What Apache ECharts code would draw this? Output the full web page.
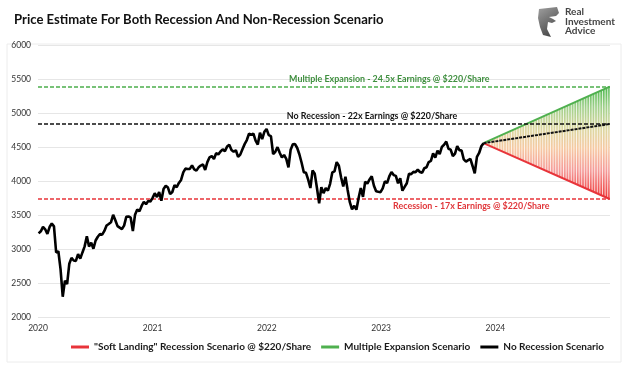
<!DOCTYPE html>
<html>
<head>
<meta charset="utf-8">
<script src="https://cdn.jsdelivr.net/npm/echarts@6/dist/echarts.min.js"></script>
<style>
html,body{margin:0;padding:0;background:#fff;}
#chart{width:624px;height:368px;}
</style>
</head>
<body>
<div id="chart"></div>
<script>
// ---------------- DATA ----------------
const chartTitle = 'Price Estimate For Both Recession And Non-Recession Scenario';
const yearLabels = ['2020', '2021', '2022', '2023', '2024'];
// S&P 500 weekly closes (first week ending 2020-01-03, weekly)
const spxFirstWeek = '2020-01-03';
const spx2020 = [3235,3265,3330,3295,3226,3328,3380,3338,2954,2972,2711,2305,2541,2489,2790,2875,2837,2831,2930,2864,2955,3044,3194,3041,3098,3009,3130,3185,3225,3216,3271,3351,3373,3397,3508,3427,3341,3319,3298,3348,3477,3484,3465,3270,3509,3585,3558,3638,3699,3663,3709,3703,3756];
const spx2021 = [3824,3768,3841,3714,3887,3934,3907,3811,3842,3943,3913,3975,4020,4129,4185,4180,4181,4233,4174,4156,4204,4230,4247,4166,4281,4352,4370,4327,4412,4395,4437,4468,4442,4509,4535,4459,4433,4455,4357,4391,4471,4545,4605,4697,4682,4698,4595,4538,4712,4620,4726,4766];
const spx2022 = [4677,4663,4398,4432,4501,4419,4349,4385,4329,4204,4463,4543,4546,4488,4393,4272,4132,4123,4024,3901,4158,4109,3901,3675,3912,3825,3899,3863,3962,4130,4145,4280,4228,4058,3924,4067,3873,3693,3586,3640,3583,3753,3901,3771,3993,3965,4026,4072,3934,3852,3845,3840];
const spx2023 = [3895,3999,3973,4071,4136,4090,4079,3970,4045,3862,3917,3971,4109,4105,4138,4133,4169,4136,4124,4192,4205,4282,4299,4410,4348,4450,4399,4505,4536,4582,4478,4464,4370,4406,4516,4457,4450,4320,4288,4309,4327,4224,4117,4358,4415,4514,4559];

// Projection (start -> end of 2024)
const projStartDate = '2023-11-24';
const projStartValue = 4559;
const projEndDate = '2024-12-31';
const targetExpansion = 5390;   // 24.5x * 220
const targetNoRecession = 4840; // 22x * 220
const targetRecession = 3740;   // 17x * 220

const seriesNames = ['"Soft Landing" Recession Scenario @ $220/Share', 'Multiple Expansion Scenario', 'No Recession Scenario'];
const levelLabels = ['Multiple Expansion - 24.5x Earnings @ $220/Share', 'No Recession - 22x Earnings @ $220/Share', 'Recession - 17x Earnings @ $220/Share'];
const levelLabelDates = ['2023-01-27', '2022-12-03', '2023-10-16'];
const logoLines = ['Real', 'Investment', 'Advice'];

// ---------------- BUILD ----------------
const spxValues = [].concat(spx2020, spx2021, spx2022, spx2023);
const DAY = 86400000;
const t0 = new Date(spxFirstWeek + 'T00:00:00Z').getTime();
const spxData = spxValues.map((v, i) => [t0 + i * 7 * DAY, v]);

const FONT = 'Lato, "Open Sans", sans-serif';
const GREEN = '#4fb04f';
const RED = '#e8343a';

const chart = echarts.init(document.getElementById('chart'), null, {renderer: 'canvas'});

const fanData = [[projStartDate, projStartValue, projEndDate, targetExpansion, targetRecession]];

const option = {
  animation: false,
  backgroundColor: '#fff',
  title: {
    text: chartTitle, left: 9, top: 8,
    textStyle: {fontFamily: FONT, fontWeight: 'bold', fontSize: 13.1, color: '#111'}
  },
  grid: {left: 38, right: 14, top: 45, bottom: 50.5, containLabel: false},
  legend: {
    left: 66, top: 337, width: 580, itemWidth: 18, itemHeight: 3, itemGap: 10, icon: 'rect',
    data: seriesNames,
    textStyle: {fontFamily: FONT, fontWeight: 'bold', fontSize: 10, color: '#1a1a1a'}
  },
  xAxis: {
    type: 'time',
    min: '2020-01-01', max: '2025-01-01',
    splitNumber: 5,
    axisLine: {show: false}, axisTick: {show: false},
    splitLine: {show: false},
    axisLabel: {
      fontFamily: FONT, fontSize: 8.5, color: '#333', margin: 6, showMaxLabel: false,
      formatter: function (val) {
        const y = String(new Date(val).getUTCFullYear());
        return yearLabels.indexOf(y) >= 0 ? y : '';
      }
    }
  },
  yAxis: {
    type: 'value', min: 2000, max: 6000, interval: 500,
    axisLine: {show: false}, axisTick: {show: false},
    splitLine: {lineStyle: {color: '#e6e6e6', width: 1}},
    axisLabel: {fontFamily: FONT, fontSize: 8.5, color: '#333', margin: 7, formatter: function (v) { return String(v); }}
  },
  graphic: [
    {type: 'rect', shape: {x: 7, y: 44, width: 614, height: 318}, style: {fill: 'none', stroke: '#ececec', lineWidth: 1}, z: -1},
    {type: 'polygon', shape: {points: [[539,9],[557,7],[559,13],[556,16],[549,17],[553,19],[556,21],[552,23],[548,22],[547,29],[551,37],[543,35],[540,27],[538,18]]},
     style: {fill: new echarts.graphic.LinearGradient(0, 0, 1, 1, [{offset: 0, color: '#a0a0a0'}, {offset: 1, color: '#3a3a3a'}])}},
    {type: 'text', left: 565, top: 7, style: {text: logoLines.join('\n'), fontFamily: FONT, fontWeight: 'bold', fontSize: 10, lineHeight: 9.5, fill: '#444'}}
  ],
  series: [
    {
      type: 'custom', name: 'fan', silent: true, z: 1,
      encode: {x: [0, 2], y: [1, 3, 4]},
      data: fanData,
      renderItem: function (params, api) {
        const p0 = api.coord([api.value(0), api.value(1)]);
        const pg = api.coord([api.value(2), api.value(3)]);
        const pr = api.coord([api.value(2), api.value(4)]);
        const children = [{
          type: 'polygon', shape: {points: [p0, pg, pr]},
          style: {fill: new echarts.graphic.LinearGradient(0, 0, 0, 1, [
            {offset: 0, color: '#4cb84c'},
            {offset: 0.18, color: '#9fd08a'},
            {offset: 0.38, color: '#ddd7a0'},
            {offset: 0.55, color: '#f6c9a2'},
            {offset: 0.75, color: '#f59a98'},
            {offset: 1, color: '#ee3535'}
          ])}
        }];
        for (let x = p0[0] + 2; x < pg[0] - 1; x += 2.6) {
          const f = (x - p0[0]) / (pg[0] - p0[0]);
          const yt = p0[1] + f * (pg[1] - p0[1]);
          const yb = p0[1] + f * (pr[1] - p0[1]);
          children.push({type: 'line', shape: {x1: x, y1: yt, x2: x, y2: yb}, style: {stroke: 'rgba(255,255,255,0.75)', lineWidth: 1}});
        }
        return {type: 'group', children: children};
      }
    },
    {
      type: 'line', name: 'S&P 500', data: spxData, showSymbol: false, z: 5,
      lineStyle: {color: '#000', width: 2.6}, itemStyle: {color: '#000'},
      markLine: {
        silent: true, symbol: 'none', label: {show: false},
        lineStyle: {type: [4, 2], width: 1.5},
        data: [
          {yAxis: targetExpansion, lineStyle: {color: '#4cae4c'}},
          {yAxis: targetNoRecession, lineStyle: {color: '#111'}},
          {yAxis: targetRecession, lineStyle: {color: RED}}
        ]
      },
      markPoint: {
        symbol: 'circle', symbolSize: 0, silent: true,
        label: {show: true, fontFamily: FONT, fontWeight: 'bold', fontSize: 8.9},
        data: [
          {coord: [levelLabelDates[0], targetExpansion], label: {formatter: levelLabels[0], position: 'top', distance: 3, color: '#3f8f3f'}},
          {coord: [levelLabelDates[1], targetNoRecession], label: {formatter: levelLabels[1], position: 'top', distance: 3, color: '#111'}},
          {coord: [levelLabelDates[2], targetRecession], label: {formatter: levelLabels[2], position: 'bottom', distance: 3, color: '#e0363a'}}
        ]
      }
    },
    {
      type: 'line', name: seriesNames[0], showSymbol: false, z: 4,
      data: [[projStartDate, projStartValue], [projEndDate, targetRecession]],
      lineStyle: {color: RED, width: 2}, itemStyle: {color: RED}
    },
    {
      type: 'line', name: seriesNames[1], showSymbol: false, z: 4,
      data: [[projStartDate, projStartValue], [projEndDate, targetExpansion]],
      lineStyle: {color: GREEN, width: 2}, itemStyle: {color: GREEN}
    },
    {
      type: 'line', name: seriesNames[2], showSymbol: false, z: 4,
      data: [[projStartDate, projStartValue], [projEndDate, targetNoRecession]],
      lineStyle: {color: '#111', width: 2, type: [3, 1]}, itemStyle: {color: '#000'}
    }
  ]
};
chart.setOption(option);
</script>
</body>
</html>
